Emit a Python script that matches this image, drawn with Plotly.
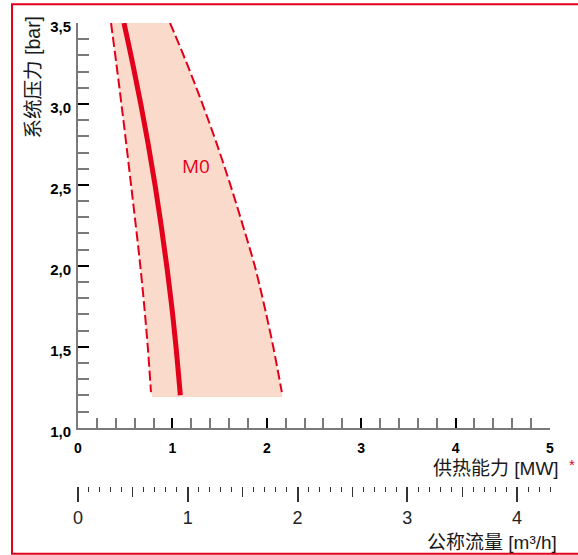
import plotly.graph_objects as go

# ---------------- data ----------------
band_pressure_bar = [3.5, 3.25, 3.0, 2.75, 2.5, 2.25, 2.0, 1.75, 1.5, 1.22]
band_min_mw = [0.350, 0.406, 0.460, 0.512, 0.562, 0.612, 0.660, 0.702, 0.739, 0.773]
band_max_mw = [0.975, 1.153, 1.318, 1.472, 1.614, 1.746, 1.872, 1.975, 2.068, 2.159]
band_floor_bar = 1.19
band_floor_mw = [0.787, 2.165]

m0_pressure_bar = [3.5, 3.25, 3.0, 2.75, 2.5, 2.25, 2.0, 1.75, 1.5, 1.2]
m0_power_mw = [0.487, 0.579, 0.665, 0.744, 0.816, 0.881, 0.940, 0.993, 1.038, 1.084]
series_label = "M0"
label_pos = (1.245, 2.615)

y_tickvals = [1.0, 1.5, 2.0, 2.5, 3.0, 3.5]
y_ticktext = ["1,0", "1,5", "2,0", "2,5", "3,0", "3,5"]
x_tickvals = [0, 1, 2, 3, 4, 5]
x_ticktext = ["0", "1", "2", "3", "4", "5"]
flow_tickvals = [0, 1, 2, 3, 4]
flow_ticktext = ["0", "1", "2", "3", "4"]
flow_half_ticks = [0.5, 1.5, 2.5, 3.5]

y_title = "系统压力 [bar]"
x_title = "供热能力 [MW]"
flow_title = "公称流量 [m³/h]"

# ---------------- layout geometry (pixels) ----------------
W, H = 578, 555
L, R, T, B = 78, 558, 23, 486


def px(x):
    return (x - L) / (R - L)


def py(y):
    return (B - y) / (B - T)


RED = "#e3001b"
FILL = "#f9dacb"
FONT = "Liberation Sans, Arial, Noto Sans CJK SC, sans-serif"
CJK = "Liberation Sans, Noto Sans CJK SC, sans-serif"

fig = go.Figure()

# shaded band
fig.add_trace(go.Scatter(
    x=band_min_mw + band_floor_mw + band_max_mw[::-1],
    y=band_pressure_bar + [band_floor_bar, band_floor_bar] + band_pressure_bar[::-1],
    mode="lines", fill="toself", fillcolor=FILL, line=dict(width=0),
    hoverinfo="skip", showlegend=False))

# dashed limits
for xs in (band_min_mw, band_max_mw):
    fig.add_trace(go.Scatter(
        x=xs, y=band_pressure_bar, mode="lines",
        line=dict(color=RED, width=2, dash="10px,4px", shape="spline", smoothing=1.0),
        showlegend=False, hoverinfo="skip"))

# nominal curve
fig.add_trace(go.Scatter(
    x=m0_power_mw, y=m0_pressure_bar, mode="lines",
    line=dict(color=RED, width=5, shape="spline", smoothing=1.0),
    showlegend=False))

# invisible traces to activate the flow axes
for ax in ("x2", "x3"):
    fig.add_trace(go.Scatter(x=[0, 4.3], y=[None, None], xaxis=ax, yaxis="y",
                             mode="markers", marker=dict(opacity=0),
                             showlegend=False, hoverinfo="skip"))

fig.add_annotation(x=label_pos[0], y=label_pos[1], xref="x", yref="y",
                   text=series_label, showarrow=False,
                   font=dict(family="Open Sans, Noto Sans, sans-serif", size=19, color=RED))

main_x_end = (550 - L) / (R - L)
y_bottom = py(427.7)

fig.update_layout(
    width=W, height=H,
    margin=dict(l=L, r=W - R, t=T, b=H - B, pad=0),
    paper_bgcolor="white", plot_bgcolor="white",
    showlegend=False,
    xaxis=dict(
        domain=[0, main_x_end], range=[0, 5], anchor="y",
        showline=True, linecolor="#7a7a7a", linewidth=2,
        showgrid=False, zeroline=False,
        ticks="inside", ticklen=10, tickwidth=2, tickcolor="#000",
        tickmode="array", tickvals=x_tickvals, ticktext=x_ticktext,
        tickfont=dict(family=FONT, size=14, color="#000", weight="bold"),
        ticklabelstandoff=6,
        minor=dict(tickmode="linear", tick0=0, dtick=0.2, ticks="inside",
                   ticklen=10, tickwidth=1.5, tickcolor="#7a7a7a", showgrid=False),
    ),
    yaxis=dict(
        domain=[y_bottom, 1], range=[1.0, 3.5], anchor="x",
        showline=True, linecolor="#7a7a7a", linewidth=2,
        showgrid=False, zeroline=False,
        ticks="inside", ticklen=11, tickwidth=2, tickcolor="#000",
        tickmode="array", tickvals=y_tickvals, ticktext=y_ticktext,
        tickfont=dict(family=FONT, size=15, color="#000", weight="bold"),
        ticklabelstandoff=2, ticklabelshift=4,
        minor=dict(tickmode="linear", tick0=1.0, dtick=0.1, ticks="inside",
                   ticklen=11, tickwidth=1.5, tickcolor="#7a7a7a", showgrid=False),
    ),
    xaxis2=dict(
        domain=[0, 1], range=[0, 4.3], anchor="free", position=0,
        overlaying="x", side="bottom",
        showline=False, showgrid=False, zeroline=False,
        ticks="outside", ticklen=15, tickwidth=1.5, tickcolor="#333",
        tickmode="array", tickvals=flow_tickvals, ticktext=flow_ticktext,
        tickfont=dict(family=FONT, size=18, color="#222"),
        minor=dict(tickmode="linear", tick0=0, dtick=0.1, ticks="outside",
                   ticklen=5, tickwidth=1, tickcolor="#333", showgrid=False),
    ),
    xaxis3=dict(
        domain=[0, 1], range=[0, 4.3], anchor="free", position=0,
        overlaying="x", side="bottom",
        showline=False, showgrid=False, zeroline=False,
        ticks="outside", ticklen=10, tickwidth=1, tickcolor="#333",
        tickmode="array", tickvals=flow_half_ticks, showticklabels=False,
    ),
)

# axis titles
fig.add_annotation(xref="paper", yref="paper", x=px(33), y=py(77.4), text=y_title,
                   textangle=-90, showarrow=False, xanchor="center", yanchor="middle",
                   font=dict(family=CJK, size=19.5, color="#1a1a1a"))
fig.add_annotation(xref="paper", yref="paper", x=px(561), y=py(468), text=x_title,
                   showarrow=False, xanchor="right", yanchor="middle",
                   font=dict(family=CJK, size=19, color="#1a1a1a"))
fig.add_annotation(xref="paper", yref="paper", x=px(572), y=py(464), text="*",
                   showarrow=False, xanchor="center", yanchor="middle",
                   font=dict(family=FONT, size=15, color=RED))
fig.add_annotation(xref="paper", yref="paper", x=px(559), y=py(542), text=flow_title,
                   showarrow=False, xanchor="right", yanchor="middle",
                   font=dict(family=CJK, size=19, color="#1a1a1a"))

# red frame
fig.add_shape(type="rect", xref="paper", yref="paper",
              x0=px(12), x1=px(600), y0=py(553.7), y1=py(4.3),
              line=dict(color=RED, width=2), fillcolor="rgba(0,0,0,0)", layer="above")

fig.write_html("out.html", config={"displayModeBar": False},
               post_script="document.body.style.margin='0px';")
